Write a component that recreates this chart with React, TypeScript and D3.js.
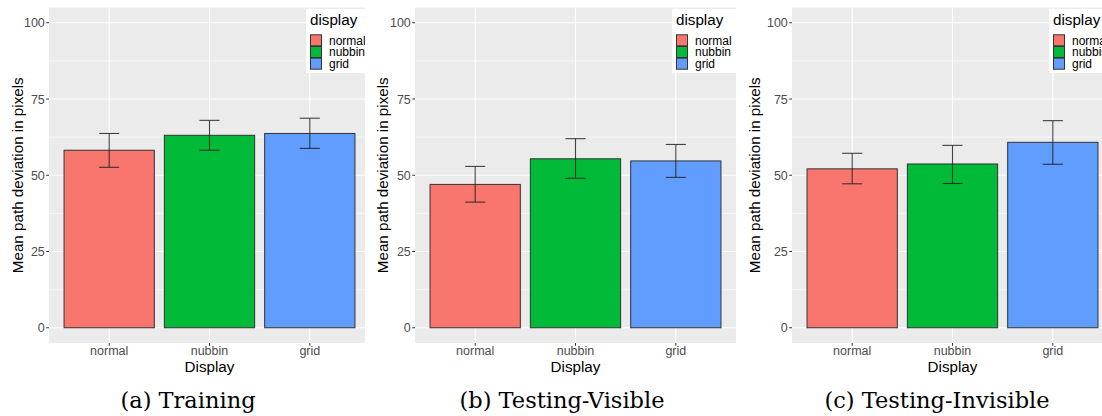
// Three ggplot-style bar charts (mean path deviation by display type)
// with error bars, one for each phase of the study.
import React, { useEffect, useRef } from 'react';
import { select, scaleLinear, scalePoint } from 'd3';

const displays = ['normal', 'nubbin', 'grid'];
const colors = ['#F8766D', '#00BA38', '#619CFF'];
const captions = ['(a) Training', '(b) Testing-Visible', '(c) Testing-Invisible'];
const yTicks = [0, 25, 50, 75, 100];
const yMinor = [12.5, 37.5, 62.5, 87.5];

const trainingMean = [58.2, 63.1, 63.7];
const trainingLow = [52.6, 58.2, 58.8];
const trainingHigh = [63.7, 68.0, 68.7];

const visibleMean = [47.0, 55.4, 54.7];
const visibleLow = [41.2, 49.0, 49.3];
const visibleHigh = [52.9, 62.0, 60.1];

const invisibleMean = [52.1, 53.7, 60.8];
const invisibleLow = [47.2, 47.3, 53.6];
const invisibleHigh = [57.2, 59.8, 67.9];

const W = 1102, H = 416;
const SANS = '"Liberation Sans", Arial, sans-serif';
const panelLeft = [49, 415, 792];
const panelW = 321;
const titleOffset = [31, 32, 37];
const captionX = [188, 562, 937];
const clipRight = [365, 738, W];

export default function App() {
  const ref = useRef(null);

  useEffect(() => {
    const panels = [
      { mean: trainingMean, low: trainingLow, high: trainingHigh },
      { mean: visibleMean, low: visibleLow, high: visibleHigh },
      { mean: invisibleMean, low: invisibleLow, high: invisibleHigh }
    ];
    const svg = select(ref.current);
    svg.selectAll('*').remove();
    const defs = svg.append('defs');

    const top = 7.5, bottom = 343;
    const y = scaleLinear().domain([-5, 105]).range([bottom, top]);

    panels.forEach((p, i) => {
      const left = panelLeft[i];
      const right = left + panelW;
      const x = scalePoint().domain(displays).range([left, right]).padding(0.6);
      const bw = x.step() * 0.9;
      const ew = x.step() * 0.2;

      defs.append('clipPath').attr('id', 'clip' + i)
        .append('rect').attr('x', 0).attr('y', 0)
        .attr('width', clipRight[i]).attr('height', H);

      const g = svg.append('g').attr('clip-path', 'url(#clip' + i + ')');

      g.append('rect')
        .attr('x', left).attr('y', top)
        .attr('width', panelW).attr('height', bottom - top)
        .attr('fill', '#EBEBEB');

      g.selectAll('.minor').data(yMinor).enter().append('line')
        .attr('x1', left).attr('x2', right)
        .attr('y1', d => y(d)).attr('y2', d => y(d))
        .attr('stroke', '#fff').attr('stroke-width', 0.55);
      g.selectAll('.major').data(yTicks).enter().append('line')
        .attr('x1', left).attr('x2', right)
        .attr('y1', d => y(d)).attr('y2', d => y(d))
        .attr('stroke', '#fff').attr('stroke-width', 1.1);
      g.selectAll('.vmajor').data(displays).enter().append('line')
        .attr('x1', d => x(d)).attr('x2', d => x(d))
        .attr('y1', top).attr('y2', bottom)
        .attr('stroke', '#fff').attr('stroke-width', 1.1);

      // bars
      g.selectAll('.bar').data(displays).enter().append('rect')
        .attr('x', d => x(d) - bw / 2)
        .attr('y', (d, j) => y(p.mean[j]))
        .attr('width', bw)
        .attr('height', (d, j) => y(0) - y(p.mean[j]))
        .attr('fill', (d, j) => colors[j])
        .attr('stroke', '#333').attr('stroke-width', 1);

      // error bars
      displays.forEach((d, j) => {
        const cx = x(d);
        const eb = g.append('g').attr('stroke', '#222').attr('stroke-width', 1.1)
          .attr('stroke-opacity', 0.85);
        eb.append('line').attr('x1', cx).attr('x2', cx)
          .attr('y1', y(p.low[j])).attr('y2', y(p.high[j]));
        eb.append('line').attr('x1', cx - ew / 2).attr('x2', cx + ew / 2)
          .attr('y1', y(p.low[j])).attr('y2', y(p.low[j]));
        eb.append('line').attr('x1', cx - ew / 2).attr('x2', cx + ew / 2)
          .attr('y1', y(p.high[j])).attr('y2', y(p.high[j]));
      });

      // y axis
      g.selectAll('.ytick').data(yTicks).enter().append('line')
        .attr('x1', left - 2.8).attr('x2', left)
        .attr('y1', d => y(d)).attr('y2', d => y(d))
        .attr('stroke', '#333').attr('stroke-width', 1);
      g.selectAll('.ylab').data(yTicks).enter().append('text')
        .attr('x', left - 4.2).attr('y', d => y(d)).attr('dy', '0.36em')
        .attr('text-anchor', 'end')
        .style('font-family', SANS).style('font-size', '12.5px')
        .attr('fill', '#4D4D4D')
        .text(d => d);
      g.append('text')
        .attr('transform', 'translate(' + (left - titleOffset[i]) + ',' + (top + bottom) / 2 + ') rotate(-90)')
        .attr('text-anchor', 'middle').attr('dy', '0.35em')
        .style('font-family', SANS).style('font-size', '15.2px')
        .attr('fill', '#000')
        .text('Mean path deviation in pixels');

      // x axis
      g.selectAll('.xtick').data(displays).enter().append('line')
        .attr('x1', d => x(d)).attr('x2', d => x(d))
        .attr('y1', bottom).attr('y2', bottom + 2.8)
        .attr('stroke', '#333').attr('stroke-width', 1);
      g.selectAll('.xlab').data(displays).enter().append('text')
        .attr('x', d => x(d)).attr('y', 355)
        .attr('text-anchor', 'middle')
        .style('font-family', SANS).style('font-size', '12.5px')
        .attr('fill', '#4D4D4D')
        .text(d => d);
      g.append('text')
        .attr('x', (left + right) / 2).attr('y', 371.5)
        .attr('text-anchor', 'middle')
        .style('font-family', SANS).style('font-size', '15.2px')
        .attr('fill', '#000')
        .text('Display');

      // legend inside the top-right corner
      const lx = left + 257, ly = 9;
      const lg = g.append('g');
      lg.append('rect').attr('x', lx).attr('y', ly)
        .attr('width', 64).attr('height', 64).attr('fill', '#fff');
      lg.append('text').attr('x', lx + 4).attr('y', 25)
        .style('font-family', SANS).style('font-size', '15.2px')
        .attr('fill', '#000').text('display');
      displays.forEach((d, j) => {
        const ky = 34.8 + j * 11.7;
        lg.append('rect').attr('x', lx + 4.5).attr('y', ky)
          .attr('width', 11).attr('height', 11)
          .attr('fill', colors[j]).attr('stroke', '#333').attr('stroke-width', 1);
        lg.append('text').attr('x', lx + 23).attr('y', ky + 5.6).attr('dy', '0.36em')
          .style('font-family', SANS).style('font-size', '12px')
          .attr('fill', '#000').text(d);
      });

      svg.append('text')
        .attr('x', captionX[i]).attr('y', 408)
        .attr('text-anchor', 'middle')
        .style('font-family', '"DejaVu Serif", serif').style('font-size', '22.5px')
        .attr('fill', '#000')
        .text(captions[i]);
    });
  }, []);

  return (
    <svg ref={ref} width={W} height={H}
      style={{ position: 'absolute', left: 0, top: 0, background: '#fff' }} />
  );
}
